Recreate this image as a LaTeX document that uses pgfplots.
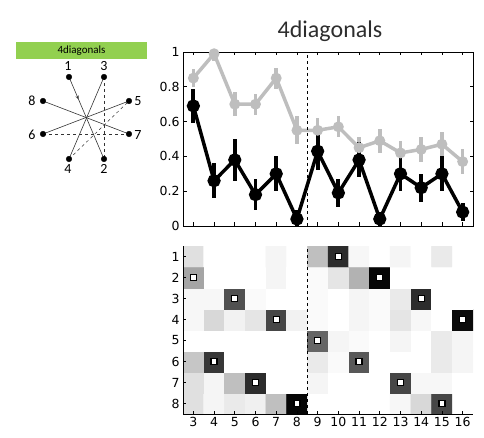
\documentclass[border=0pt]{standalone}
\usepackage{fontspec}
\setmainfont{Carlito}
\newfontfamily\tickfont{DejaVu Sans}
\usepackage{pgfplots}
\usepackage{pgfplotstable}
\pgfplotsset{compat=1.18}
\usetikzlibrary{decorations.markings}
\definecolor{lgray}{RGB}{190,190,190}
\definecolor{boxgreen}{RGB}{146,208,80}
\definecolor{titlegray}{RGB}{45,45,45}

\pgfplotstableread{
x g ge b be
3 0.85 0.05 0.69 0.10
4 0.99 0.04 0.26 0.10
5 0.70 0.07 0.38 0.12
6 0.70 0.06 0.18 0.09
7 0.85 0.06 0.30 0.10
8 0.55 0.08 0.04 0.05
9 0.55 0.07 0.43 0.11
10 0.57 0.06 0.19 0.08
11 0.45 0.06 0.38 0.10
12 0.49 0.07 0.04 0.04
13 0.42 0.07 0.30 0.10
14 0.44 0.07 0.22 0.08
15 0.47 0.07 0.30 0.10
16 0.37 0.07 0.08 0.05
}\lines

\pgfplotstableread{
x y c
3 1 0.12
4 1 0.04
5 1 0.08
6 1 0.06
7 1 0.25
8 1 0.97
9 1 0
10 1 0
11 1 0
12 1 0
13 1 0.03
14 1 0.15
15 1 0.72
16 1 0
3 2 0.12
4 2 0.04
5 2 0.25
6 2 0.82
7 2 0
8 2 0
9 2 0.04
10 2 0
11 2 0
12 2 0
13 2 0.72
14 2 0.03
15 2 0.03
16 2 0
3 3 0.22
4 3 0.78
5 3 0
6 3 0
7 3 0
8 3 0
9 3 0.08
10 3 0.02
11 3 0.65
12 3 0
13 3 0
14 3 0
15 3 0.08
16 3 0.04
3 4 0
4 4 0
5 4 0
6 4 0
7 4 0
8 4 0
9 4 0.6
10 4 0.04
11 4 0.02
12 4 0
13 4 0.04
14 4 0
15 4 0.08
16 4 0.04
3 5 0.03
4 5 0.15
5 5 0.05
6 5 0.1
7 5 0.72
8 5 0.05
9 5 0.02
10 5 0
11 5 0.04
12 5 0.02
13 5 0.1
14 5 0.03
15 5 0
16 5 0.95
3 6 0.03
4 6 0.03
5 6 0.68
6 6 0.02
7 6 0
8 6 0
9 6 0.02
10 6 0
11 6 0.04
12 6 0.02
13 6 0.08
14 6 0.82
15 6 0
16 6 0
3 7 0.35
4 7 0
5 7 0
6 7 0
7 7 0.04
8 7 0
9 7 0.02
10 7 0.1
11 7 0.3
12 7 0.97
13 7 0
14 7 0
15 7 0
16 7 0
3 8 0.12
4 8 0
5 8 0
6 8 0
7 8 0.04
8 8 0
9 8 0.25
10 8 0.82
11 8 0.03
12 8 0
13 8 0.04
14 8 0
15 8 0.08
16 8 0
}\heat

\begin{document}
\begin{tikzpicture}
\useasboundingbox (0,0) rectangle (484pt,438pt);
% diagram and title (pixel coordinates)
\begin{axis}[at={(0pt,0pt)}, anchor=south west, scale only axis,
  width=484pt, height=438pt, xmin=0, xmax=484, ymin=0, ymax=438,
  y dir=reverse, hide axis, clip=false]
  \fill[boxgreen] (axis cs:16,42) rectangle (axis cs:147,59);
  \node[font=\fontsize{11}{13}\selectfont] at (axis cs:81.5,50.5) {4diagonals};
  \addplot[black!80, line width=0.6pt, postaction={decorate},
    decoration={markings, mark=at position 0.27 with {\arrow{stealth}}}]
    coordinates {(69,77) (104,159)};
  \addplot[black!80, line width=0.6pt] coordinates {(104,77) (69,159)};
  \addplot[black!80, line width=0.6pt] coordinates {(43,101) (129,134)};
  \addplot[black!80, line width=0.6pt] coordinates {(129,101) (43,134)};
  \addplot[black!80, line width=0.5pt, dashed] coordinates {(104,77) (104,159)};
  \addplot[black!80, line width=0.5pt, dashed] coordinates {(43,134) (129,134)};
  \addplot[black!80, line width=0.5pt, dashed] coordinates {(69,159) (129,101)};
  \addplot[only marks, mark=*, mark size=2.8pt, black] coordinates
    {(69,77) (104,77) (43,101) (129,101) (43,134) (129,134) (69,159) (104,159)};
  \begin{scope}[font=\fontsize{14}{16}\selectfont]
  \node at (axis cs:68,66) {1};
  \node at (axis cs:104,66) {3};
  \node at (axis cs:32,101) {8};
  \node at (axis cs:138,101) {5};
  \node at (axis cs:32,135) {6};
  \node at (axis cs:138,135) {7};
  \node at (axis cs:68,169) {4};
  \node at (axis cs:104,169) {2};
  \end{scope}
  \node[font=\fontsize{24}{28}\selectfont, text=titlegray] at (axis cs:330,31) {4diagonals};
\end{axis}

% top line plot
\begin{axis}[at={(183pt,212pt)}, anchor=south west, scale only axis,
  width=290pt, height=174pt, xmin=2.5, xmax=16.5, ymin=0, ymax=1,
  xtick={3,...,16}, xticklabels={},
  ytick={0,0.2,0.4,0.6,0.8,1},
  /pgf/number format/assume math mode=true,
  tick label style={font=\tickfont\fontsize{12.5}{14}\selectfont},
  axis line style={line width=0.8pt},
  major tick length=3.5pt,
  tick style={black, line width=0.6pt}]
  \addplot[lgray, line width=3.5pt, mark=*, mark size=3.6pt,
    error bars/.cd, y dir=both, y explicit,
    error bar style={line width=3.5pt, lgray}, error mark=none]
    table[x=x, y=g, y error=ge] {\lines};
  \addplot[black, line width=3.5pt, mark=*, mark size=4.8pt,
    error bars/.cd, y dir=both, y explicit,
    error bar style={line width=3.8pt, black}, error mark=none]
    table[x=x, y=b, y error=be] {\lines};
  \addplot[black, line width=0.7pt, dashed] coordinates {(8.5,0) (8.5,1)};
\end{axis}

% heat map
\begin{axis}[at={(183pt,24pt)}, anchor=south west, scale only axis,
  width=290pt, height=168pt, xmin=2.5, xmax=16.5, ymin=0.5, ymax=8.5,
  enlargelimits=false,
  axis lines=left, axis line style={-, line width=0.8pt},
  tick align=inside, major tick length=3pt,
  tick style={black, line width=0.6pt},
  xtick={3,...,16}, ytick={1,...,8}, yticklabels={8,7,6,5,4,3,2,1},
  /pgf/number format/assume math mode=true,
  tick label style={font=\tickfont\fontsize{12.5}{14}\selectfont},
  colormap={bw}{gray(0cm)=(1); gray(1cm)=(0)},
  point meta min=0, point meta max=1, axis on top]
  \addplot[matrix plot*, mesh/cols=14, point meta=explicit] table[x=x, y=y, meta=c] {\heat};
  \addplot[only marks, mark=square*, mark size=3pt,
    mark options={fill=white, draw=black, line width=1.2pt}] coordinates
    {(3,7) (4,3) (5,6) (6,2) (7,5) (8,1) (9,4) (10,8) (11,3) (12,7) (13,2) (14,6) (15,1) (16,5)};
  \addplot[black, line width=0.7pt, dashed] coordinates {(8.5,0.5) (8.5,8.5)};
\end{axis}
\end{tikzpicture}
\end{document}
